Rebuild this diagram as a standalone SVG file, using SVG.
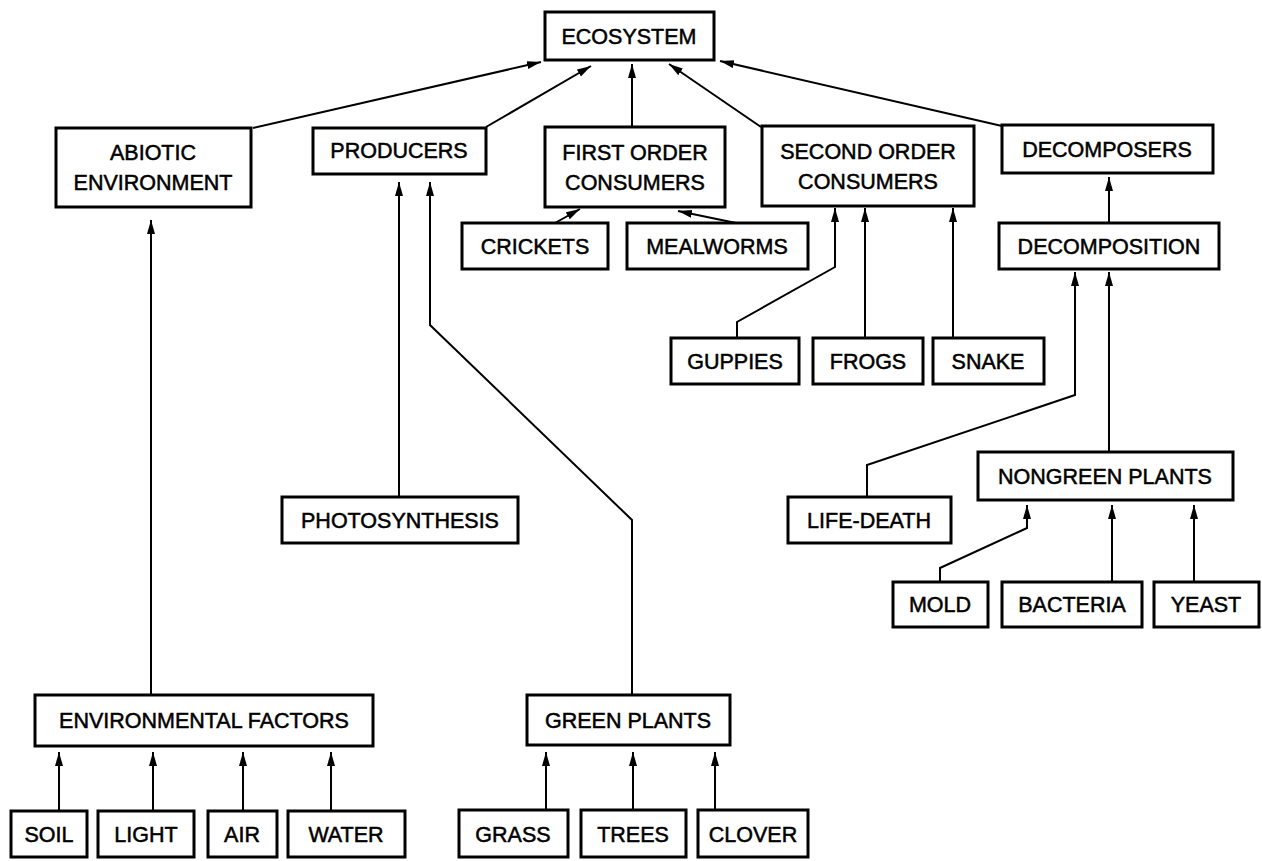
<svg xmlns="http://www.w3.org/2000/svg" width="1262" height="861" viewBox="0 0 1262 861">
  <style>
    .box { fill: #fff; stroke: #000; stroke-width: 3; }
    .lbl { font-family: "Liberation Sans", Arial, Helvetica, sans-serif; font-size: 21.5px; fill: #000; stroke: #000; stroke-width: 0.5; text-anchor: middle; }
    .con { fill: none; stroke: #000; stroke-width: 2; }
  </style>
  <defs>
    <marker id="arr" markerUnits="userSpaceOnUse" markerWidth="15" markerHeight="10" refX="14" refY="4" orient="auto">
      <path d="M0,0 L14,4 L0,8 Z" fill="#000"/>
    </marker>
  </defs>
  <rect width="1262" height="861" fill="#fff"/>

  <g id="connectors">
    <line class="con" x1="253" y1="128" x2="541" y2="62" marker-end="url(#arr)"/>
    <line class="con" x1="486" y1="127" x2="591" y2="66" marker-end="url(#arr)"/>
    <line class="con" x1="632" y1="127" x2="632" y2="64" marker-end="url(#arr)"/>
    <line class="con" x1="761" y1="127" x2="669" y2="64" marker-end="url(#arr)"/>
    <line class="con" x1="1002" y1="126" x2="720" y2="61" marker-end="url(#arr)"/>
    <line class="con" x1="555" y1="223" x2="580" y2="209" marker-end="url(#arr)"/>
    <line class="con" x1="736" y1="223" x2="678" y2="211" marker-end="url(#arr)"/>
    <line class="con" x1="151" y1="695" x2="151" y2="220" marker-end="url(#arr)"/>
    <line class="con" x1="399" y1="497" x2="399" y2="182" marker-end="url(#arr)"/>
    <polyline class="con" points="632,695 632,520 430,325 430,182" marker-end="url(#arr)"/>
    <polyline class="con" points="737,338 737,322 835,267 835,208" marker-end="url(#arr)"/>
    <line class="con" x1="865" y1="338" x2="865" y2="208" marker-end="url(#arr)"/>
    <line class="con" x1="953" y1="338" x2="953" y2="208" marker-end="url(#arr)"/>
    <line class="con" x1="1109" y1="223" x2="1109" y2="177" marker-end="url(#arr)"/>
    <polyline class="con" points="867,497 867,465 1075,395 1075,272" marker-end="url(#arr)"/>
    <line class="con" x1="1109" y1="452" x2="1109" y2="272" marker-end="url(#arr)"/>
    <polyline class="con" points="940,582 940,568 1027,528 1027,505" marker-end="url(#arr)"/>
    <line class="con" x1="1112" y1="582" x2="1112" y2="505" marker-end="url(#arr)"/>
    <line class="con" x1="1194" y1="582" x2="1194" y2="505" marker-end="url(#arr)"/>
    <line class="con" x1="59" y1="811" x2="59" y2="752" marker-end="url(#arr)"/>
    <line class="con" x1="153" y1="811" x2="153" y2="752" marker-end="url(#arr)"/>
    <line class="con" x1="243" y1="811" x2="243" y2="752" marker-end="url(#arr)"/>
    <line class="con" x1="331" y1="811" x2="331" y2="752" marker-end="url(#arr)"/>
    <line class="con" x1="546" y1="810" x2="546" y2="752" marker-end="url(#arr)"/>
    <line class="con" x1="633" y1="810" x2="633" y2="752" marker-end="url(#arr)"/>
    <line class="con" x1="715" y1="810" x2="715" y2="752" marker-end="url(#arr)"/>
  </g>

  <g id="ecosystem"><rect class="box" x="545" y="12" width="169" height="48"/><text class="lbl" x="629" y="43.5">ECOSYSTEM</text></g>
  <g id="abiotic"><rect class="box" x="56" y="128" width="195" height="79"/><text class="lbl" x="153" y="159.5">ABIOTIC</text><text class="lbl" x="153" y="190">ENVIRONMENT</text></g>
  <g id="producers"><rect class="box" x="313" y="128" width="173" height="46"/><text class="lbl" x="399" y="158">PRODUCERS</text></g>
  <g id="first-order"><rect class="box" x="545" y="127" width="180" height="80"/><text class="lbl" x="635" y="159.5">FIRST ORDER</text><text class="lbl" x="635" y="190">CONSUMERS</text></g>
  <g id="second-order"><rect class="box" x="762" y="126" width="212" height="80"/><text class="lbl" x="868" y="158.5">SECOND ORDER</text><text class="lbl" x="868" y="189">CONSUMERS</text></g>
  <g id="decomposers"><rect class="box" x="1002" y="125" width="211" height="48"/><text class="lbl" x="1107" y="156.5">DECOMPOSERS</text></g>
  <g id="crickets"><rect class="box" x="462" y="223" width="146" height="46"/><text class="lbl" x="535" y="253.5">CRICKETS</text></g>
  <g id="mealworms"><rect class="box" x="627" y="223" width="181" height="46"/><text class="lbl" x="717" y="253.5">MEALWORMS</text></g>
  <g id="decomposition"><rect class="box" x="999" y="223" width="220" height="46"/><text class="lbl" x="1109" y="253.5">DECOMPOSITION</text></g>
  <g id="guppies"><rect class="box" x="671" y="338" width="128" height="46"/><text class="lbl" x="735" y="368.5">GUPPIES</text></g>
  <g id="frogs"><rect class="box" x="813" y="338" width="110" height="46"/><text class="lbl" x="868" y="368.5">FROGS</text></g>
  <g id="snake"><rect class="box" x="933" y="338" width="111" height="46"/><text class="lbl" x="988" y="368.5">SNAKE</text></g>
  <g id="nongreen"><rect class="box" x="978" y="452" width="255" height="48"/><text class="lbl" x="1105" y="483.5">NONGREEN PLANTS</text></g>
  <g id="photosynthesis"><rect class="box" x="282" y="497" width="236" height="46"/><text class="lbl" x="400" y="527.5">PHOTOSYNTHESIS</text></g>
  <g id="life-death"><rect class="box" x="788" y="497" width="163" height="46"/><text class="lbl" x="869" y="527.5">LIFE-DEATH</text></g>
  <g id="mold"><rect class="box" x="893" y="582" width="95" height="45"/><text class="lbl" x="940" y="612">MOLD</text></g>
  <g id="bacteria"><rect class="box" x="1002" y="582" width="140" height="45"/><text class="lbl" x="1072" y="612">BACTERIA</text></g>
  <g id="yeast"><rect class="box" x="1154" y="582" width="105" height="45"/><text class="lbl" x="1206" y="612">YEAST</text></g>
  <g id="env-factors"><rect class="box" x="35" y="695" width="338" height="51"/><text class="lbl" x="204" y="728">ENVIRONMENTAL FACTORS</text></g>
  <g id="green-plants"><rect class="box" x="527" y="695" width="203" height="50"/><text class="lbl" x="628" y="728">GREEN PLANTS</text></g>
  <g id="soil"><rect class="box" x="11" y="811" width="76" height="46"/><text class="lbl" x="49" y="841.5">SOIL</text></g>
  <g id="light"><rect class="box" x="98" y="811" width="96" height="46"/><text class="lbl" x="146" y="841.5">LIGHT</text></g>
  <g id="air"><rect class="box" x="208" y="811" width="69" height="46"/><text class="lbl" x="242" y="841.5">AIR</text></g>
  <g id="water"><rect class="box" x="288" y="811" width="117" height="46"/><text class="lbl" x="346" y="841.5">WATER</text></g>
  <g id="grass"><rect class="box" x="459" y="810" width="109" height="47"/><text class="lbl" x="513" y="841.5">GRASS</text></g>
  <g id="trees"><rect class="box" x="581" y="810" width="105" height="47"/><text class="lbl" x="633" y="841.5">TREES</text></g>
  <g id="clover"><rect class="box" x="698" y="810" width="110" height="47"/><text class="lbl" x="753" y="841.5">CLOVER</text></g>
</svg>
